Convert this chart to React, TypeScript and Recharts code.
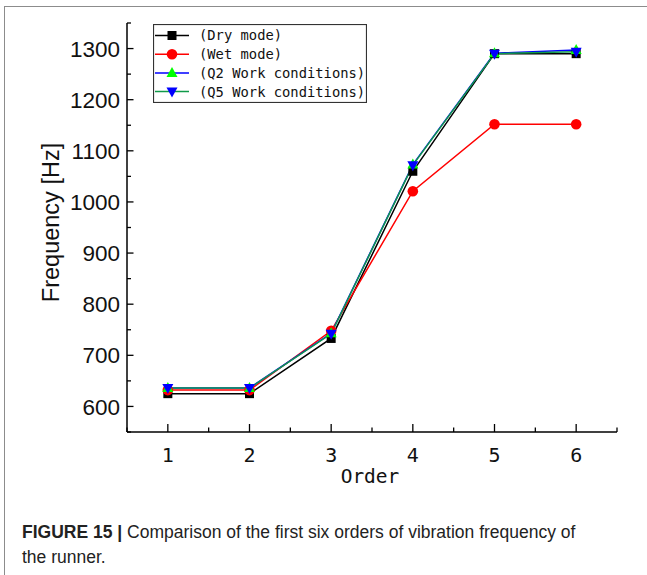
import React from 'react';
import { LineChart, Line, XAxis, YAxis, Legend } from 'recharts';

const orders = [1, 2, 3, 4, 5, 6];
const dryMode = [625, 625, 733, 1060, 1290, 1290];
const wetMode = [632, 632, 748, 1021, 1152, 1152];
const q2Work = [636, 636, 743, 1073, 1291, 1297];
const q5Work = [636, 636, 742, 1072, 1290, 1294];
const seriesNames = ['(Dry mode)', '(Wet mode)', '(Q2 Work conditions)', '(Q5 Work conditions)'];
const xTicks = [0.5, 1, 1.5, 2, 2.5, 3, 3.5, 4, 4.5, 5, 5.5, 6, 6.5];
const yTicks = [550, 600, 650, 700, 750, 800, 850, 900, 950, 1000, 1050, 1100, 1150, 1200, 1250, 1300, 1350];

const data = orders.map((o, i) => ({
  order: o,
  dry: dryMode[i],
  wet: wetMode[i],
  q2: q2Work[i],
  q5: q5Work[i],
}));

const MONO = '"DejaVu Sans Mono", monospace';
const SANS = '"Liberation Sans", Arial, sans-serif';

const YTick = (props: any) => {
  const { x, y, payload } = props;
  const axisX = x + 12;
  const v = payload.value;
  const major = v % 100 === 0;
  return (
    <g>
      <line x1={axisX} x2={axisX + (major ? 6.5 : 4)} y1={y} y2={y} stroke="#000" strokeWidth={1.3} />
      {major && (
        <text x={axisX - 7} y={y} dy="0.36em" textAnchor="end" fontFamily={SANS} fontSize={22.5} fill="#111">
          {v}
        </text>
      )}
    </g>
  );
};

const XTick = (props: any) => {
  const { x, y, payload } = props;
  const axisY = y - 12;
  const v = payload.value;
  const major = Number.isInteger(v);
  return (
    <g>
      <line x1={x} x2={x} y1={axisY} y2={axisY - (major ? 8 : 4.5)} stroke="#000" strokeWidth={1.3} />
      {major && (
        <text x={x} y={axisY + 23} dy="0.36em" textAnchor="middle" fontFamily={MONO} fontSize={20} fill="#111">
          {v}
        </text>
      )}
    </g>
  );
};

const Square = (color: string) => (props: any) => {
  const { cx, cy, index } = props;
  return <rect key={`sq-${index}`} x={cx - 4.5} y={cy - 4.5} width={9} height={9} fill={color} />;
};
const Circle = (color: string) => (props: any) => {
  const { cx, cy, index } = props;
  return <circle key={`ci-${index}`} cx={cx} cy={cy} r={5.3} fill={color} />;
};
const TriUp = (color: string) => (props: any) => {
  const { cx, cy, index } = props;
  return <polygon key={`tu-${index}`} points={`${cx},${cy - 6} ${cx - 5.5},${cy + 4} ${cx + 5.5},${cy + 4}`} fill={color} />;
};
const TriDown = (color: string) => (props: any) => {
  const { cx, cy, index } = props;
  return <polygon key={`td-${index}`} points={`${cx},${cy + 6} ${cx - 5.5},${cy - 4} ${cx + 5.5},${cy - 4}`} fill={color} />;
};

const legendItems = [
  { name: seriesNames[0], line: '#000000', marker: 'square', mcolor: '#000000' },
  { name: seriesNames[1], line: '#ff0000', marker: 'circle', mcolor: '#ff0000' },
  { name: seriesNames[2], line: '#0000ff', marker: 'up', mcolor: '#00ff00' },
  { name: seriesNames[3], line: '#109a4a', marker: 'down', mcolor: '#0000ff' },
];

const LegendBox = () => (
  <svg width={214} height={79} style={{ display: 'block' }}>
    <rect x={0.5} y={0.5} width={213} height={78} fill="#fff" stroke="#333" strokeWidth={1.2} />
    {legendItems.map((it, i) => {
      const cy = 11.5 + i * 18.7;
      const cx = 19;
      let m: any = null;
      if (it.marker === 'square') m = <rect x={cx - 4.5} y={cy - 4.5} width={9} height={9} fill={it.mcolor} />;
      if (it.marker === 'circle') m = <circle cx={cx} cy={cy} r={5.3} fill={it.mcolor} />;
      if (it.marker === 'up') m = <polygon points={`${cx},${cy - 6} ${cx - 5.5},${cy + 4} ${cx + 5.5},${cy + 4}`} fill={it.mcolor} />;
      if (it.marker === 'down') m = <polygon points={`${cx},${cy + 6} ${cx - 5.5},${cy - 4} ${cx + 5.5},${cy - 4}`} fill={it.mcolor} />;
      return (
        <g key={it.name}>
          <line x1={2} x2={36} y1={cy} y2={cy} stroke={it.line} strokeWidth={1.5} />
          {m}
          <text x={46} y={cy} dy="0.36em" fontFamily={MONO} fontSize={13.8} fill="#111">
            {it.name}
          </text>
        </g>
      );
    })}
  </svg>
);

export default function App() {
  return (
    <div
      style={{
        position: 'absolute',
        left: 0,
        top: 0,
        width: 647,
        height: 575,
        background: '#fff',
        overflow: 'hidden',
      }}
    >
      <div
        style={{
          position: 'absolute',
          left: 4,
          top: 6,
          width: 660,
          height: 600,
          borderTop: '1px solid #8c8c8c',
          borderLeft: '1px solid #8c8c8c',
        }}
      />
      <div style={{ position: 'absolute', left: 0, top: 0 }}>
        <LineChart width={647} height={500} data={data} margin={{ top: 23, right: 30, bottom: 38, left: 0 }}>
          <XAxis
            dataKey="order"
            type="number"
            domain={[0.5, 6.5]}
            ticks={xTicks}
            interval={0}
            tickSize={6}
            tickMargin={6}
            tickLine={false}
            tick={<XTick />}
            height={30}
            axisLine={{ stroke: '#000', strokeWidth: 1.5 }}
            label={{
              value: 'Order',
              position: 'insideBottom',
              content: (p: any) => {
                const vb = p.viewBox;
                return (
                  <text x={vb.x + vb.width / 2 - 2} y={vb.y + 44} dy="0.36em" textAnchor="middle" fontFamily={MONO} fontSize={19.5} fill="#111">
                    Order
                  </text>
                );
              },
            }}
          />
          <YAxis
            type="number"
            domain={[550, 1350]}
            ticks={yTicks}
            interval={0}
            width={127}
            tickSize={6}
            tickMargin={6}
            tickLine={false}
            tick={<YTick />}
            axisLine={{ stroke: '#000', strokeWidth: 1.5 }}
            label={{
              value: 'Frequency [Hz]',
              position: 'insideLeft',
              content: (p: any) => {
                const vb = p.viewBox;
                const cx = vb.x + 51;
                const cy = vb.y + vb.height / 2 - 5;
                return (
                  <text x={cx} y={cy} dy="0.36em" textAnchor="middle" transform={`rotate(-90 ${cx} ${cy})`} fontFamily={SANS} fontSize={23.5} fill="#111">
                    Frequency [Hz]
                  </text>
                );
              },
            }}
          />
          <Legend
            layout="vertical"
            align="center"
            verticalAlign="middle"
            wrapperStyle={{ position: 'absolute', left: 153, top: 24, width: 214, height: 79 }}
            content={() => <LegendBox />}
          />
          <Line dataKey="dry" name={seriesNames[0]} stroke="#000000" strokeWidth={1.5} dot={Square('#000000')} isAnimationActive={false} />
          <Line dataKey="wet" name={seriesNames[1]} stroke="#ff0000" strokeWidth={1.5} dot={Circle('#ff0000')} isAnimationActive={false} />
          <Line dataKey="q2" name={seriesNames[2]} stroke="#0000ff" strokeWidth={1.5} dot={TriUp('#00ff00')} isAnimationActive={false} />
          <Line dataKey="q5" name={seriesNames[3]} stroke="#109a4a" strokeWidth={1.5} dot={TriDown('#0000ff')} isAnimationActive={false} />
        </LineChart>
      </div>
      <div
        style={{
          position: 'absolute',
          left: 22,
          top: 520,
          width: 625,
          fontFamily: SANS,
          fontSize: 17.5,
          lineHeight: '25px',
          color: '#222',
          whiteSpace: 'nowrap',
        }}
      >
        <span style={{ fontWeight: 'bold' }}>FIGURE 15 | </span>Comparison of the first six orders of vibration frequency of
        <br />
        the runner.
      </div>
    </div>
  );
}
